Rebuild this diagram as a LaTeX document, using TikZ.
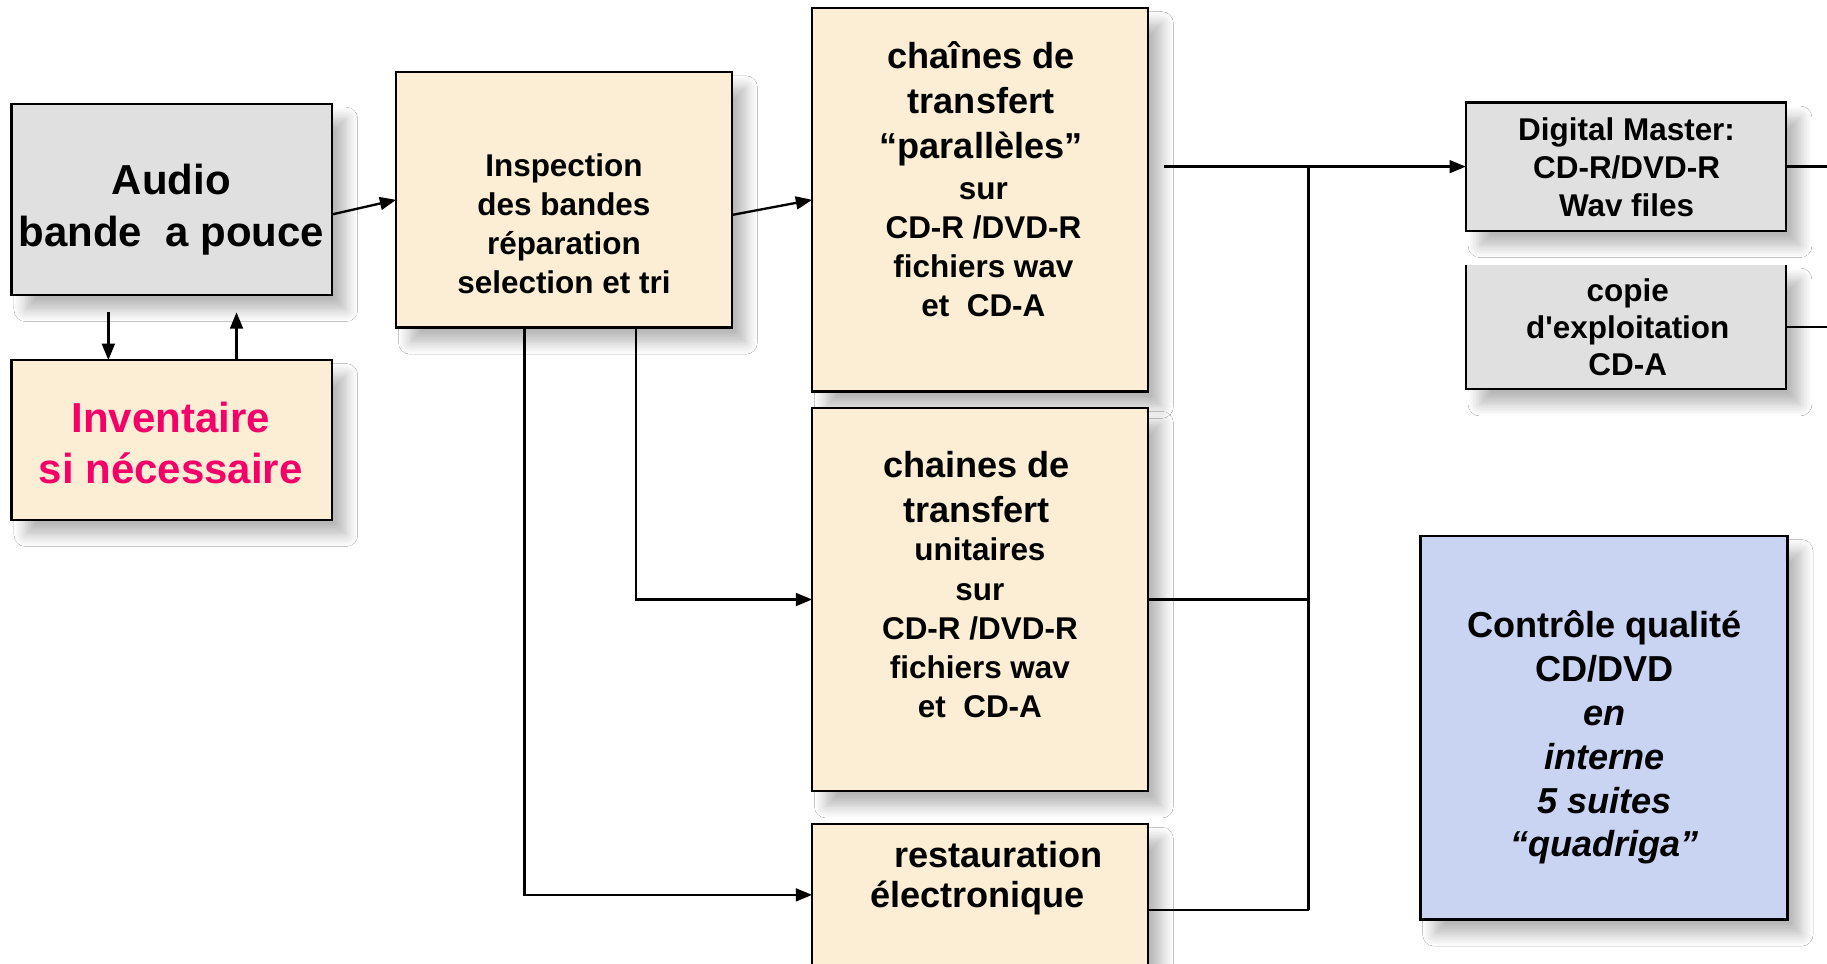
\documentclass[tikz,border=0pt]{standalone}
\usepackage{fontspec}
\setmainfont{Liberation Sans}[Ligatures=TeXOff]
\usetikzlibrary{arrows.meta,shadows.blur,calc}
\definecolor{cream}{RGB}{251,238,212}
\definecolor{granite}{RGB}{224,224,224}
\definecolor{pastel}{RGB}{200,212,242}
\definecolor{rose}{RGB}{245,0,105}
\begin{document}
\begin{tikzpicture}[x=0.5pt,y=-0.5pt,
  shad/.style={blur shadow={shadow xshift=6pt,shadow yshift=-6.5pt,shadow blur radius=5pt,shadow blur steps=8,shadow opacity=28}},
  box/.style={draw=black,line width=1pt,inner sep=0pt,outer sep=0pt,shad},
  big/.style={font=\bfseries\fontsize{18}{22}\selectfont,align=center,inner sep=0pt},
  mid/.style={font=\bfseries\fontsize{15.5}{19.3}\selectfont,align=center,inner sep=0pt},
  sml/.style={font=\bfseries\fontsize{13.5}{16.8}\selectfont,align=center,inner sep=0pt},
  conn/.style={line width=1pt},
  arr/.style={line width=1pt,-{Triangle[length=7pt,width=5.5pt]}}]
\useasboundingbox (0,0) rectangle (1568,827);
\fill[white] (0,0) rectangle (1568,827);
\clip (0,0) rectangle (1568,827);

% boxes
\node[box,fill=granite,minimum width=137.5pt,minimum height=82pt] (audio) at (147.5,171) {};
\node[big] (audioT) at (147,180) {Audio\\bande\ \ a pouce};

\node[box,fill=cream,minimum width=137.5pt,minimum height=68.5pt] (inv) at (147.5,377.5) {};
\node[big,text=rose] (invT) at (146.5,380) {Inventaire\\si nécessaire};

\node[box,fill=cream,minimum width=144pt,minimum height=109.5pt] (insp) at (484,171.5) {};
\node[sml] (inspT) at (484,192) {Inspection\\des bandes\\réparation\\selection et tri};

\node[box,fill=cream,minimum width=144pt,minimum height=164.5pt] (ch1) at (841,171.5) {};
\node[mid] (ch1a) at (842,89) {chaînes de\\transfert\\“parallèles”};
\node[sml] (ch1b) at (844,214.5) {sur\\CD-R /DVD-R\\fichiers wav\\et\ \ CD-A};

\node[box,fill=cream,minimum width=144pt,minimum height=164.5pt] (ch2) at (841,514.5) {};
\node[mid] (ch2a) at (838,418) {chaines de\\transfert};
\node[sml] (ch2b) at (841,539) {unitaires\\sur\\CD-R /DVD-R\\fichiers wav\\et\ \ CD-A};

\node[box,fill=cream,minimum width=144pt,minimum height=61pt] (rest) at (841,768) {};
\node[mid] (restA) at (857,733) {restauration};
\node[mid] (restB) at (839,771) {électronique};

\node[box,fill=granite,minimum width=137.5pt,minimum height=55pt] (dm) at (1395.5,143) {};
\node[sml,font=\bfseries\fontsize{13.5}{16.3}\selectfont] (dmT) at (1396,143.5) {Digital Master:\\CD-R/DVD-R\\Wav files};

\node[fill=granite,inner sep=0pt,outer sep=0pt,minimum width=137.5pt,minimum height=53.5pt,shad] (cop) at (1395.5,280.5) {};
\draw[conn] (cop.north west) -- (cop.south west) -- (cop.south east) -- (cop.north east);
\node[sml,font=\bfseries\fontsize{13.5}{16}\selectfont] (copT) at (1397,281) {copie\\d'exploitation\\CD-A};

\node[box,fill=pastel,minimum width=157.5pt,minimum height=164.5pt] (qc) at (1376.5,624.5) {};
\node[mid,font=\bfseries\fontsize{15.5}{18.8}\selectfont] (qcT) at (1377,633) {Contrôle qualité\\CD/DVD\\{\itshape en}\\{\itshape interne}\\{\itshape 5 suites}\\{\itshape “quadriga”}};

% connectors
\coordinate (dA) at (93,268);
\coordinate (uA) at (203,268);
\draw[arr] (dA) -- (dA |- inv.north);
\draw[arr] (uA |- inv.north) -- (uA);
\draw[arr] ([yshift=-6.5pt]audio.east) -- (insp.west);
\draw[arr] ([yshift=-6.5pt]insp.east) -- (ch1.west);
\draw[arr] ([xshift=-17pt]insp.south) |- (rest.west);
\draw[arr] ([xshift=31pt]insp.south) |- (ch2.west);
\coordinate (s1) at (999,143);
\coordinate (bt) at (1123,143);
\coordinate (bb) at (1123,781);
\draw[arr] (s1) -- (dm.west);
\draw[conn] (bt) -- (bb);
\draw[conn] (ch2.east) -- (ch2.east -| bt);
\draw[conn] ([yshift=-6.5pt]rest.east) -- (bb);
\draw[conn] (dm.east) -- ++(50,0);
\draw[conn] (cop.east) -- ++(50,0);
\end{tikzpicture}
\end{document}
